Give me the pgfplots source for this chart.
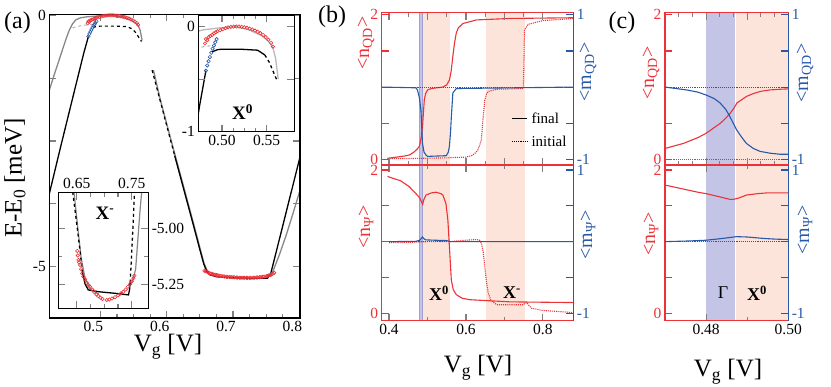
\documentclass[border=0pt]{standalone}
\usepackage{pgfplots}
\pgfplotsset{compat=1.18}
\usepackage{pgfplotstable}
\usepackage{fontspec}
\setmainfont{Liberation Serif}

\definecolor{cred}{RGB}{236,50,56}
\definecolor{cblue}{RGB}{40,88,168}
\definecolor{peach}{RGB}{253,228,218}
\definecolor{lav}{RGB}{196,196,230}
\definecolor{lavline}{RGB}{160,160,215}
\definecolor{gr}{RGB}{135,135,135}
\definecolor{lgr}{RGB}{185,185,185}
\newcommand{\fs}[1]{\fontsize{#1}{#1}\selectfont}

% ---- panel (a) data
\pgfplotstableread{
x y
0.423 -1.49
0.430 -1.20
0.440 -0.80
0.448 -0.48
0.453 -0.30
0.458 -0.17
0.463 -0.09
0.470 -0.05
0.480 -0.03
0.490 -0.02
0.500 -0.01
0.515 0.0
0.530 -0.03
0.545 -0.09
0.552 -0.14
0.557 -0.20
0.560 -0.30
0.563 -0.50
}\grayL
\pgfplotstableread{
x y
0.458 -0.25
0.470 -0.21
0.480 -0.19
0.490 -0.18
}\grayD
\pgfplotstableread{
x y
0.423 -3.55
0.440 -2.62
0.460 -1.55
0.475 -0.75
0.482 -0.42
}\blackL
\pgfplotstableread{
x y
0.489 -0.24
0.495 -0.22
0.500 -0.215
0.520 -0.215
0.540 -0.225
0.548 -0.27
0.553 -0.34
0.557 -0.42
0.562 -0.52
}\blackF
\pgfplotstableread{
x y
0.482 -0.42
0.4835 -0.37
0.485 -0.33
0.4865 -0.29
0.488 -0.25
0.4895 -0.21
0.491 -0.18
0.4925 -0.15
0.494 -0.12
}\blueX
\pgfplotstableread{
x y
0.481 -0.16
0.482 -0.12
0.4835 -0.13
0.485 -0.10
0.487 -0.09
0.489 -0.08
0.491 -0.065
0.493 -0.055
0.495 -0.045
0.498 -0.035
0.501 -0.025
0.504 -0.015
0.507 -0.008
0.510 -0.003
0.513 0.0
0.516 0.0
0.519 0.0
0.522 -0.003
0.525 -0.007
0.528 -0.012
0.531 -0.02
0.534 -0.028
0.537 -0.038
0.540 -0.05
0.543 -0.063
0.546 -0.08
0.549 -0.10
0.552 -0.125
0.555 -0.155
0.557 -0.19
}\redX
\pgfplotstableread{
x y
0.657 -5.08
0.659 -5.09
0.661 -5.10
0.663 -5.12
0.665 -5.13
0.667 -5.14
0.669 -5.15
0.671 -5.155
0.673 -5.16
0.675 -5.167
0.677 -5.172
0.680 -5.18
0.682 -5.185
0.685 -5.19
0.687 -5.195
0.690 -5.20
0.692 -5.203
0.695 -5.205
0.697 -5.207
0.700 -5.21
0.702 -5.212
0.705 -5.215
0.707 -5.217
0.710 -5.22
0.712 -5.22
0.715 -5.22
0.717 -5.221
0.720 -5.222
0.722 -5.222
0.725 -5.222
0.727 -5.221
0.730 -5.22
0.732 -5.218
0.735 -5.215
0.737 -5.213
0.740 -5.21
0.742 -5.206
0.745 -5.20
0.747 -5.196
0.750 -5.19
0.752 -5.183
0.754 -5.175
0.756 -5.167
0.758 -5.155
0.760 -5.14
0.762 -5.12
}\redM

% ---- panel (b) data
\pgfplotstableread{
x y
0.396 0.014
0.420 0.03
0.440 0.045
0.453 0.06
0.465 0.10
0.473 0.14
0.479 0.18
0.483 0.28
0.4872 0.45
0.4895 0.65
0.4917 0.82
0.495 0.91
0.5003 0.96
0.510 0.98
0.5396 1.0
0.550 1.03
0.5572 1.10
0.5615 1.22
0.5658 1.42
0.570 1.60
0.5747 1.745
0.580 1.82
0.592 1.88
0.6271 1.93
0.7144 1.95
0.879 1.96
}\nQDf
\pgfplotstableread{
x y
0.396 0.01
0.450 0.01
0.550 0.02
0.600 0.03
0.615 0.05
0.625 0.09
0.631 0.13
0.636 0.20
0.640 0.27
0.644 0.54
0.649 0.82
0.653 0.90
0.658 0.94
0.680 0.97
0.749 0.98
0.7505 1.30
0.752 1.79
0.762 1.87
0.800 1.92
0.879 1.95
}\nQDi
\pgfplotstableread{
x y
0.381 0
0.470 -0.01
0.474 -0.04
0.479 -0.15
0.483 -0.32
0.487 -0.78
0.491 -0.90
0.496 -0.94
0.500 -0.96
0.549 -0.95
0.554 -0.90
0.557 -0.82
0.560 -0.62
0.562 -0.41
0.566 -0.08
0.575 -0.02
0.879 0
}\mQDf
\pgfplotstableread{
x y
0.396 1.91
0.430 1.85
0.452 1.77
0.470 1.67
0.480 1.61
0.485 1.55
0.4875 1.52
0.490 1.58
0.496 1.65
0.510 1.68
0.522 1.69
0.535 1.67
0.540 1.65
0.548 1.53
0.553 1.30
0.557 0.93
0.562 0.46
0.567 0.33
0.575 0.26
0.590 0.21
0.610 0.19
0.714 0.16
0.879 0.15
}\nPf
\pgfplotstableread{
x y
0.400 0.985
0.450 0.99
0.500 1.0
0.557 1.0
0.600 1.02
0.627 1.03
0.635 1.02
0.640 0.98
0.645 0.85
0.649 0.65
0.653 0.45
0.658 0.28
0.665 0.18
0.680 0.12
0.749 0.12
0.753 0.14
0.758 0.15
0.765 0.10
0.771 0.07
0.800 0.04
0.879 0.01
}\nPi
\pgfplotstableread{
x y
0.400 0
0.470 0.005
0.480 0.02
0.4845 0.05
0.487 0.065
0.490 0.045
0.495 0.025
0.520 0.02
0.550 0.015
0.560 0.0
0.879 0
}\mPf

% ---- panel (c) data
\pgfplotstableread{
x y
0.470 0.15
0.4745 0.22
0.478 0.30
0.480 0.36
0.482 0.44
0.4835 0.50
0.4848 0.57
0.4859 0.64
0.4868 0.71
0.4875 0.78
0.4888 0.83
0.4898 0.87
0.4915 0.91
0.4932 0.94
0.4955 0.96
0.498 0.97
0.500 0.975
}\cnQD
\pgfplotstableread{
x y
0.470 0.0
0.4753 -0.04
0.478 -0.07
0.480 -0.11
0.482 -0.16
0.4834 -0.22
0.4848 -0.31
0.4858 -0.41
0.4866 -0.50
0.4874 -0.59
0.4886 -0.69
0.4898 -0.78
0.4915 -0.85
0.4931 -0.89
0.4955 -0.915
0.4979 -0.93
0.500 -0.93
}\cmQD
\pgfplotstableread{
x y
0.470 1.79
0.474 1.74
0.478 1.69
0.480 1.67
0.483 1.63
0.4858 1.59
0.4866 1.59
0.488 1.61
0.4898 1.65
0.4925 1.67
0.4947 1.68
0.500 1.68
}\cnP
\pgfplotstableread{
x y
0.470 0.0
0.476 0.01
0.480 0.02
0.484 0.045
0.4874 0.07
0.490 0.065
0.494 0.045
0.497 0.035
0.500 0.03
}\cmP

\pgfplotsset{
  panel/.style={
    scale only axis, anchor=south west,
    axis line style={line width=1.2pt},
    every tick/.append style={line width=1.1pt},
    major tick length=7pt, minor tick length=4pt,
    tick align=inside,
    tick label style={font=\fs{15.5}},
    /pgf/number format/assume math mode=true,
    axis on top,
  },
  leftred/.style={ytick pos=left, y axis line style={cred}, every y tick/.append style={cred},
    yticklabel style={cred}, ytick={0,0.5,1,1.5,2}, yticklabels={0,,,,2}},
  rightblue/.style={axis x line=none, axis y line*=right, xtick=\empty, ytick pos=right, yticklabel pos=right,
    y axis line style={cblue,-}, every y tick/.append style={cblue},
    yticklabel style={cblue}, ytick={-1,-0.5,0,0.5,1}, yticklabels={-1,,,,1}},
  circ/.style={only marks, mark=o, mark size=1.7pt, mark options={line width=0.6pt}},
}

\begin{document}
\begin{tikzpicture}[x=1pt,y=1pt]
\useasboundingbox (0,0) rectangle (831,387);

% ===== (a) main
\begin{axis}[panel, at={(49.3pt,69pt)}, width=250.7pt, height=303.7pt,
  xmin=0.423, xmax=0.801, ymin=-6.02, ymax=0.02,
  xtick={0.5,0.6,0.7,0.8}, minor x tick num=3, xticklabel style={xshift=-7pt},
  ytick={0,-1.25,-2.5,-3.75,-5}, yticklabels={0,,,,-5}]
\addplot[gr, line width=1.3pt] table {\grayL};
\addplot[lgr, line width=1.1pt, dashed] table {\grayD};
\addplot[black, line width=1.3pt] table {\blackL};
\addplot[black, line width=1.2pt, dashed] table {\blackF};
\addplot[gr, line width=1.4pt] coordinates {(0.580,-1.09)(0.59,-1.66)(0.60,-2.16)(0.62,-3.14)(0.64,-4.12)(0.65,-4.62)(0.656,-4.92)(0.661,-5.08)};
\addplot[black, line width=1.2pt, dashed] coordinates {(0.578,-1.09)(0.59,-1.69)(0.60,-2.19)(0.612,-2.79)};
\addplot[black, line width=1.3pt] coordinates {(0.612,-2.79)(0.62,-3.18)(0.64,-4.16)(0.65,-4.66)(0.656,-4.95)(0.66,-5.08)(0.665,-5.16)(0.675,-5.20)(0.70,-5.22)(0.73,-5.23)(0.752,-5.23)(0.757,-5.13)(0.77,-4.45)(0.785,-3.66)(0.801,-2.82)};
\addplot[gr, line width=1.3pt] coordinates {(0.755,-5.20)(0.759,-5.12)(0.762,-5.03)(0.77,-4.76)(0.78,-4.38)(0.79,-3.96)(0.801,-3.48)};
\addplot[cblue, circ] table {\blueX};
\addplot[cred, circ] table {\redX};
\addplot[cred, circ] table {\redM};
\end{axis}

% ===== (a) inset X0
\begin{axis}[panel, at={(198.3pt,255.3pt)}, width=96pt, height=116.7pt,
  axis background/.style={fill=white},
  xmin=0.4735, xmax=0.581, ymin=-1, ymax=0.11,
  xtick={0.5,0.55}, xticklabels={0.50,0.55}, minor x tick num=3,
  ytick={0,-0.5,-1}, yticklabels={0,,-1}]
\addplot[lgr, line width=1.3pt] table {\grayL};
\addplot[lgr, line width=1.1pt, dashed] table {\grayD};
\addplot[black, line width=1.3pt] table {\blackL};
\addplot[black, line width=1.3pt] coordinates {(0.489,-0.24)(0.495,-0.22)(0.500,-0.215)(0.520,-0.215)(0.540,-0.225)(0.548,-0.27)};
\addplot[black, line width=1.3pt, dashed] coordinates {(0.548,-0.27)(0.553,-0.34)(0.557,-0.42)(0.562,-0.52)};
\addplot[cblue, circ] table {\blueX};
\addplot[cred, circ] table {\redX};
\end{axis}

% ===== (a) inset X-
\begin{axis}[panel, at={(58.3pt,78.7pt)}, width=90pt, height=115.6pt,
  axis background/.style={fill=white},
  xmin=0.6165, xmax=0.78, ymin=-5.353, ymax=-4.843,
  xtick={0.65,0.75}, xticklabels={0.65,0.75}, xticklabel pos=right, minor x tick num=3,
  ytick={-5,-5.25}, yticklabels={-5.00,-5.25}, yticklabel pos=right, minor y tick num=1]
\addplot[gr, line width=1.2pt] coordinates {(0.645,-4.84)(0.652,-5.0)(0.658,-5.13)(0.665,-5.22)(0.675,-5.27)(0.69,-5.29)};
\addplot[gr, line width=1.2pt] coordinates {(0.745,-5.25)(0.752,-5.23)(0.757,-5.18)(0.761,-5.05)(0.765,-4.92)(0.768,-4.84)};
\addplot[black, line width=1.3pt, dashed] coordinates {(0.6427,-4.84)(0.650,-4.98)(0.656,-5.10)(0.660,-5.19)};
\addplot[black, line width=1.3pt] coordinates {(0.660,-5.19)(0.665,-5.245)(0.671,-5.272)(0.69,-5.28)(0.72,-5.287)(0.744,-5.294)(0.746,-5.27)(0.747,-5.24)};
\addplot[black, line width=1.3pt, dashed] coordinates {(0.747,-5.24)(0.749,-5.15)(0.752,-5.0)(0.755,-4.84)};
\addplot[cred, circ] coordinates {(0.651,-5.10)(0.652,-5.12)(0.653,-5.14)(0.654,-5.15)(0.656,-5.162)(0.658,-5.18)(0.660,-5.20)(0.662,-5.213)(0.665,-5.225)(0.668,-5.24)(0.671,-5.25)(0.674,-5.258)(0.678,-5.27)(0.682,-5.282)(0.686,-5.292)(0.689,-5.299)(0.693,-5.306)(0.697,-5.312)(0.7045,-5.316)(0.709,-5.314)(0.714,-5.31)(0.7196,-5.304)(0.725,-5.296)(0.730,-5.288)(0.7347,-5.28)(0.739,-5.27)(0.743,-5.258)(0.747,-5.246)(0.750,-5.235)(0.753,-5.22)(0.7548,-5.209)};
\end{axis}

% ===== (b) top
\begin{axis}[panel, leftred, at={(381.7pt,222pt)}, width=191.6pt, height=152.3pt,
  xmin=0.381, xmax=0.879, ymin=-0.079, ymax=2.03,
  xtick={0.4,0.5,0.6,0.7,0.8}, minor x tick num=1, xticklabels={}]
\fill[peach] (0.487,-1) rectangle (0.559,3);
\fill[peach] (0.651,-1) rectangle (0.754,3);
\fill[lav] (0.479,-1) rectangle (0.487,3);
\draw[lavline, line width=0.8pt] (0.479,-1) -- (0.479,3) (0.487,-1) -- (0.487,3);
\addplot[cred, line width=1.1pt] table {\nQDf};
\addplot[cred, line width=1.1pt, densely dotted] table {\nQDi};
\end{axis}
\begin{axis}[panel, rightblue, at={(381.7pt,222pt)}, width=191.6pt, height=152.3pt,
  xmin=0.381, xmax=0.879, ymin=-1.079, ymax=1.03]
\addplot[cblue, line width=1.1pt, densely dotted] coordinates {(0.381,0)(0.879,0)};
\addplot[cblue, line width=1.1pt] table {\mQDf};
\end{axis}

% ===== (b) bottom
\begin{axis}[panel, leftred, at={(381.7pt,66.3pt)}, width=191.6pt, height=155.7pt,
  xmin=0.381, xmax=0.879, ymin=-0.103, ymax=2.07,
  xtick={0.4,0.6,0.8}, minor x tick num=1]
\fill[peach] (0.487,-1) rectangle (0.559,3);
\fill[peach] (0.651,-1) rectangle (0.754,3);
\fill[lav] (0.479,-1) rectangle (0.487,3);
\draw[lavline, line width=0.8pt] (0.479,-1) -- (0.479,3) (0.487,-1) -- (0.487,3);
\addplot[cred, line width=1.1pt] table {\nPf};
\addplot[cred, line width=1.1pt, densely dotted] table {\nPi};
\end{axis}
\begin{axis}[panel, rightblue, at={(381.7pt,66.3pt)}, width=191.6pt, height=155.7pt,
  xmin=0.381, xmax=0.879, ymin=-1.103, ymax=1.07]
\addplot[cblue, line width=1.1pt, densely dotted] coordinates {(0.400,0)(0.879,0)};
\addplot[cblue, line width=1.1pt] table {\mPf};
\end{axis}

% ===== (c) top
\begin{axis}[panel, leftred, at={(665pt,222pt)}, width=123.3pt, height=152.3pt,
  xmin=0.47, xmax=0.50, ymin=-0.079, ymax=2.03,
  xtick={0.47,0.48,0.49,0.50}, minor x tick num=2, xticklabels={}]
\fill[lav] (0.4799,-1) rectangle (0.4870,3);
\fill[peach] (0.4873,-1) rectangle (0.51,3);
\addplot[cred, line width=1.1pt, densely dotted] coordinates {(0.47,0)(0.50,0)};
\addplot[cred, line width=1.1pt] table {\cnQD};
\end{axis}
\begin{axis}[panel, rightblue, at={(665pt,222pt)}, width=123.3pt, height=152.3pt,
  xmin=0.47, xmax=0.50, ymin=-1.079, ymax=1.03]
\addplot[cblue, line width=1.1pt, densely dotted] coordinates {(0.47,0)(0.50,0)};
\addplot[cblue, line width=1.1pt] table {\cmQD};
\end{axis}

% ===== (c) bottom
\begin{axis}[panel, leftred, at={(665pt,66.3pt)}, width=123.3pt, height=155.7pt,
  xmin=0.47, xmax=0.50, ymin=-0.103, ymax=2.07,
  xtick={0.48,0.50}, xticklabels={0.48,0.50}, minor xtick={0.49}]
\fill[lav] (0.4799,-1) rectangle (0.4870,3);
\fill[peach] (0.4873,-1) rectangle (0.51,3);
\addplot[cred, line width=1.1pt, densely dotted] coordinates {(0.47,1)(0.50,1)};
\addplot[cred, line width=1.1pt] table {\cnP};
\end{axis}
\begin{axis}[panel, rightblue, at={(665pt,66.3pt)}, width=123.3pt, height=155.7pt,
  xmin=0.47, xmax=0.50, ymin=-1.103, ymax=1.07]
\addplot[cblue, line width=1.1pt, densely dotted] coordinates {(0.47,0)(0.50,0)};
\addplot[cblue, line width=1.1pt] table {\cmP};
\end{axis}

% ===== labels
\node[font=\fs{24}] at (17.5,364) {(a)};
\node[font=\fs{24}] at (332,370) {(b)};
\node[font=\fs{24}] at (622,364) {(c)};
\node[font=\fs{25}, rotate=90] at (15,209) {E-E\textsubscript{0} [meV]};
\node[font=\fs{25}, anchor=base] at (168,35) {V\textsubscript{g} [V]};
\node[font=\fs{25}, anchor=base] at (478,14) {V\textsubscript{g} [V]};
\node[font=\fs{25}, anchor=base] at (728,10) {V\textsubscript{g} [V]};

\node[font=\fs{20}, rotate=90, text=cred] at (366,344) {<n\textsubscript{QD}>};
\node[font=\fs{20}, rotate=90, text=cred] at (366,160) {<n\textsubscript{Ψ}>};
\node[font=\fs{20}, rotate=90, text=cblue] at (588,315) {<m\textsubscript{QD}>};
\node[font=\fs{20}, rotate=90, text=cblue] at (588,152) {<m\textsubscript{Ψ}>};
\node[font=\fs{20}, rotate=90, text=cred] at (651,314) {<n\textsubscript{QD}>};
\node[font=\fs{20}, rotate=90, text=cred] at (651,153) {<n\textsubscript{Ψ}>};
\node[font=\fs{20}, rotate=90, text=cblue] at (805,314) {<m\textsubscript{QD}>};
\node[font=\fs{20}, rotate=90, text=cblue] at (805,157) {<m\textsubscript{Ψ}>};

\node[font=\fs{19}\bfseries] at (242.5,275) {X\textsuperscript{0}};
\node[font=\fs{19}\bfseries] at (105,174) {X\textsuperscript{-}};
\node[font=\fs{18}\bfseries] at (439,94) {X\textsuperscript{0}};
\node[font=\fs{18}\bfseries] at (512,94) {X\textsuperscript{-}};
\node[font=\fs{18}] at (723,94) {Γ};
\node[font=\fs{18}\bfseries] at (757,94) {X\textsuperscript{0}};

\draw[line width=1.1pt] (512,268.7) -- (527,268.7);
\node[font=\fs{15}, anchor=west] at (528,268.7) {final};
\draw[line width=1.1pt, densely dotted] (512,245.3) -- (527,245.3);
\node[font=\fs{15}, anchor=west] at (528,245.3) {initial};
\end{tikzpicture}
\end{document}
